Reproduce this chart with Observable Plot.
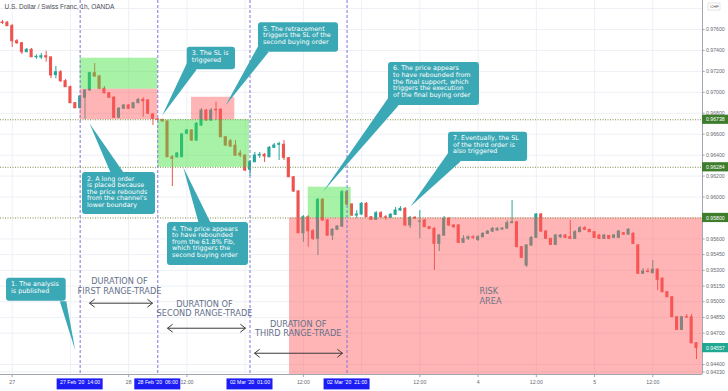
<!DOCTYPE html>
<html><head><meta charset="utf-8">
<script src="https://cdn.jsdelivr.net/npm/d3@7"></script>
<script src="https://cdn.jsdelivr.net/npm/@observablehq/plot@0.6"></script>
<style>body{margin:0;background:#fff;overflow:hidden}</style>
</head><body><div id="chart"></div>
<script>
// ---- DATA (USD/CHF, 1h, OANDA) ----
// bar index: hours since 27 Feb 00:00, weekend removed; first bar = -2
const firstBar = -2;
const opens = [
0.97667,0.97664,0.97632,0.97488,0.97469,0.97383,0.97406,0.97335,0.97333,0.97345,
0.97333,0.97165,0.97192,0.97106,0.97049,0.96896,0.96848,0.96948,0.97018,0.97183,
0.97151,0.97034,0.96992,0.96948,0.96757,0.96843,0.96874,0.96848,0.96896,0.96928,
0.96922,0.96788,0.96740,0.96737,0.96721,0.96380,0.96380,0.96380,0.96604,0.96635,
0.96540,0.96683,0.96826,0.96731,0.96833,0.96833,0.96571,0.96533,0.96490,0.96416,
0.96396,0.96260,0.96332,0.96396,0.96403,0.96380,0.96470,0.96499,0.96499,0.96371,
0.96189,0.96053,0.95654,0.95807,0.95673,0.95601,0.95973,0.95776,0.95632,0.95687,
0.95718,0.96046,0.95928,0.95823,0.95833,0.95935,0.95807,0.95782,0.95845,0.95807,
0.95801,0.95830,0.95871,0.95887,0.95728,0.95801,0.95763,0.95776,0.95712,0.95696,
0.95553,0.95632,0.95792,0.95728,0.95728,0.95563,0.95601,0.95616,0.95590,0.95616,
0.95648,0.95670,0.95680,0.95690,0.95699,0.95750,0.95759,0.95521,0.95346,0.95537,
0.95610,0.95833,0.95670,0.95601,0.95543,0.95616,0.95632,0.95616,0.95601,0.95664,
0.95702,0.95687,0.95664,0.95632,0.95601,0.95628,0.95610,0.95610,0.95654,0.95642,
0.95648,0.95537,0.95267,0.95289,0.95272,0.95305,0.95219,0.95091,0.95043,0.94852,
0.94731,0.94852,0.94852,0.94603];
const highs = [
0.97686,0.97676,0.97648,0.97504,0.97476,0.97419,0.97419,0.97358,0.97371,0.97393,
0.97340,0.97247,0.97208,0.97122,0.97060,0.96903,0.96970,0.97027,0.97192,0.97275,
0.97161,0.97056,0.96998,0.96960,0.96855,0.96884,0.96884,0.96903,0.96941,0.96948,
0.96931,0.96798,0.96750,0.96743,0.96726,0.96396,0.96425,0.96607,0.96645,0.96645,
0.96712,0.96845,0.96836,0.96845,0.96906,0.96845,0.96578,0.96549,0.96540,0.96444,
0.96400,0.96349,0.96425,0.96425,0.96416,0.96482,0.96511,0.96524,0.96540,0.96377,
0.96196,0.96062,0.95823,0.95823,0.95690,0.95986,0.95986,0.95785,0.95699,0.95728,
0.96062,0.96062,0.95938,0.95871,0.95947,0.95947,0.95814,0.95862,0.95862,0.95823,
0.95842,0.95900,0.95909,0.95900,0.95814,0.95814,0.95871,0.95785,0.95718,0.95709,
0.95642,0.95814,0.95804,0.95737,0.95737,0.95632,0.95628,0.95632,0.95632,0.95661,
0.95680,0.95709,0.95709,0.95709,0.95776,0.95967,0.95766,0.95527,0.95546,0.95623,
0.95842,0.95842,0.95680,0.95604,0.95642,0.95642,0.95642,0.95776,0.95680,0.95718,
0.95718,0.95690,0.95670,0.95642,0.95642,0.95632,0.95642,0.95680,0.95661,0.95699,
0.95661,0.95546,0.95317,0.95317,0.95394,0.95317,0.95231,0.95097,0.95050,0.94859,
0.94859,0.94878,0.94878,0.94610];
const lows = [
0.97648,0.97629,0.97428,0.97457,0.97361,0.97380,0.97333,0.97316,0.97313,0.97288,
0.97132,0.97129,0.97094,0.97046,0.96893,0.96845,0.96843,0.96740,0.97008,0.97142,
0.97027,0.96984,0.96941,0.96750,0.96747,0.96836,0.96836,0.96843,0.96893,0.96762,
0.96788,0.96683,0.96731,0.96716,0.96377,0.96100,0.96371,0.96377,0.96597,0.96530,
0.96530,0.96673,0.96721,0.96721,0.96731,0.96568,0.96482,0.96473,0.96387,0.96377,
0.96244,0.96196,0.96330,0.96368,0.96330,0.96377,0.96463,0.96349,0.96349,0.96186,
0.96043,0.95651,0.95568,0.95521,0.95585,0.95441,0.95766,0.95623,0.95585,0.95680,
0.95709,0.95919,0.95814,0.95795,0.95823,0.95804,0.95776,0.95776,0.95795,0.95776,
0.95795,0.95823,0.95862,0.95718,0.95699,0.95785,0.95601,0.95709,0.95690,0.95298,
0.95479,0.95623,0.95718,0.95699,0.95556,0.95556,0.95585,0.95594,0.95575,0.95613,
0.95642,0.95661,0.95673,0.95680,0.95690,0.95747,0.95518,0.95413,0.95327,0.95527,
0.95604,0.95661,0.95594,0.95537,0.95537,0.95604,0.95604,0.95594,0.95594,0.95661,
0.95680,0.95661,0.95604,0.95594,0.95594,0.95594,0.95604,0.95604,0.95632,0.95632,
0.95546,0.95260,0.95260,0.95279,0.95270,0.95107,0.95088,0.95040,0.94849,0.94725,
0.94725,0.94839,0.94600,0.94448];
const closes = [
0.97662,0.97632,0.97488,0.97469,0.97383,0.97406,0.97335,0.97339,0.97345,0.97333,
0.97161,0.97192,0.97106,0.97049,0.96896,0.96848,0.96960,0.97018,0.97183,0.97151,
0.97034,0.96992,0.96948,0.96757,0.96843,0.96874,0.96843,0.96896,0.96928,0.96915,
0.96795,0.96747,0.96737,0.96721,0.96380,0.96365,0.96416,0.96597,0.96635,0.96540,
0.96699,0.96826,0.96731,0.96826,0.96828,0.96571,0.96492,0.96482,0.96396,0.96396,
0.96253,0.96332,0.96396,0.96403,0.96387,0.96470,0.96492,0.96505,0.96374,0.96189,
0.96053,0.95654,0.95807,0.95673,0.95601,0.95973,0.95776,0.95632,0.95687,0.95718,
0.96046,0.95928,0.95823,0.95833,0.95935,0.95807,0.95782,0.95845,0.95807,0.95801,
0.95830,0.95871,0.95887,0.95728,0.95801,0.95795,0.95766,0.95712,0.95696,0.95553,
0.95632,0.95792,0.95728,0.95712,0.95563,0.95601,0.95616,0.95610,0.95616,0.95648,
0.95670,0.95696,0.95696,0.95699,0.95750,0.95759,0.95521,0.95419,0.95537,0.95610,
0.95833,0.95670,0.95601,0.95543,0.95632,0.95632,0.95610,0.95601,0.95664,0.95702,
0.95687,0.95664,0.95610,0.95601,0.95632,0.95601,0.95632,0.95670,0.95642,0.95687,
0.95553,0.95267,0.95289,0.95282,0.95305,0.95209,0.95091,0.95043,0.94852,0.94731,
0.94852,0.94849,0.94603,0.94557];

const gridPrices = [0.978,0.976,0.974,0.972,0.970,0.968,0.966,0.964,0.962,0.960,0.956,0.9545,0.953,0.9515,0.950,0.9485,0.947,0.944,0.9433];
const priceTicks = [0.976,0.974,0.972,0.970,0.968,0.966,0.964,0.962,0.960,0.956,0.9545,0.953,0.9515,0.950,0.9485,0.947,0.944,0.9433];
const levels = [0.96738, 0.96284, 0.95800];
const lastPrice = 0.94557;
const gridHours = [0,12,24,36,48,60,72,84,96,108,120,132];
const hourTicks = [0,24,36,60,84,96,108,120,132];
const hourLabels = ["27","28","12:00","12:00","12:00","4","12:00","5","12:00"];
const eventHours = [14,30,49,69];
const eventLabels = ["27 Feb '20  14:00","28 Feb '20  06:00","02 Mar '20  01:00","02 Mar '20  21:00"];
const title = "U.S. Dollar / Swiss Franc, 1h, OANDA";

// ---- CHART ----
const candles = opens.map((o, i) => ({t: i + firstBar, o, h: highs[i], l: lows[i], c: closes[i]}));
const xMin = -2.411, xMax = 142.24, yMin = 0.94305, yMax = 0.97877;
const UP = "#26a69a", DN = "#ef5350";
const col = d => d.c >= d.o ? UP : DN;
const fmt = d3.format(".5f");

const zones = [
  {x1: 14, x2: 30, y1: 0.97030, y2: 0.97326, fill: "#3de23d"},
  {x1: 14, x2: 30, y1: 0.96738, y2: 0.97030, fill: "#ff5c5c"},
  {x1: 30, x2: 48.9, y1: 0.96284, y2: 0.96738, fill: "#3de23d"},
  {x1: 36.95, x2: 45.87, y1: 0.96738, y2: 0.96953, fill: "#ff5c5c"},
  {x1: 61, x2: 69.85, y1: 0.95800, y2: 0.96094, fill: "#3de23d"},
  {x1: 57.14, x2: xMax, y1: yMin, y2: 0.95800, fill: "#ff5c5c"}
];
const callouts = [
  {text: "1. The analysis\nis published", x1: -1.17, x2: 11.13, y1: 0.95005, y2: 0.95224,
   ptr: [[9.81,0.95005],[13.0,0.94534],[11.13,0.95005]]},
  {text: "2. A long order\nis placed because\nthe price rebounds\nfrom the channel's\nlower boundary", x1: 14.49, x2: 29.53, y1: 0.95833, y2: 0.96234,
   ptr: [[20.26,0.96234],[15.93,0.96702],[22.94,0.96234]]},
  {text: "3. The SL is\ntriggered", x1: 36.06, x2: 46.01, y1: 0.97215, y2: 0.97431,
   ptr: [[36.06,0.97285],[30.91,0.96779],[37.98,0.97215]]},
  {text: "4. The price appears\nto have rebounded\nfrom the 61.8% Fib,\nwhich triggers the\nsecond buying order", x1: 32.0, x2: 48.69, y1: 0.95346, y2: 0.95756,
   ptr: [[38.39,0.95756],[35.24,0.96285],[40.86,0.95756]]},
  {text: "5. The retracement\ntriggers the SL of the\nsecond buying order", x1: 50.75, x2: 67.24, y1: 0.97383, y2: 0.97664,
   ptr: [[50.75,0.97447],[43.95,0.96874],[52.81,0.97383]]},
  {text: "6. The price appears\nto have rebounded from\nthe final support, which\ntriggers the execution\nof the final buying order", x1: 77.54, x2: 96.29, y1: 0.96874, y2: 0.97285,
   ptr: [[77.54,0.96951],[64.08,0.96053],[79.6,0.96874]]},
  {text: "7. Eventually, the SL\nof the third order is\nalso triggered", x1: 89.9, x2: 106.2, y1: 0.96339, y2: 0.96619,
   ptr: [[89.9,0.96425],[82.07,0.95909],[92.38,0.96339]]}
];
const pointers = callouts.flatMap((c, i) => c.ptr.map(([x, y]) => ({id: i, x, y})));
const durations = [
  {x: 22.11, y: 0.95151, text: "DURATION OF\nFIRST RANGE-TRADE"},
  {x: 39.62, y: 0.94935, text: "DURATION OF\nSECOND RANGE-TRADE"},
  {x: 58.93, y: 0.94744, text: "DURATION OF\nTHIRD RANGE-TRADE"}
];
const arrows = [
  {x1: 15.93, x2: 28.91, y: 0.94986},
  {x1: 32.0, x2: 48.07, y: 0.94747},
  {x1: 49.93, x2: 68.06, y: 0.94508}
];
// open chevron heads at both ends of each double arrow
const headW = 1.0, headH = 0.00036;
const heads = arrows.flatMap((a, i) => [
  {id: i * 2, x: a.x1 + headW, y: a.y + headH}, {id: i * 2, x: a.x1, y: a.y}, {id: i * 2, x: a.x1 + headW, y: a.y - headH},
  {id: i * 2 + 1, x: a.x2 - headW, y: a.y + headH}, {id: i * 2 + 1, x: a.x2, y: a.y}, {id: i * 2 + 1, x: a.x2 - headW, y: a.y - headH}
]);
const sideLabels = [
  ...levels.map(v => ({v, fill: "#3e7d2c"})),
  {v: lastPrice, fill: "#22a892"}
];
const events = eventHours.map((t, i) => ({t, label: eventLabels[i]}));
const hourTickData = hourTicks.map((t, i) => ({t, label: hourLabels[i]}));

const chart = Plot.plot({
  width: 728, height: 391,
  marginTop: 0, marginLeft: 0, marginRight: 26, marginBottom: 17,
  x: {domain: [xMin, xMax], axis: null},
  y: {domain: [yMin, yMax], axis: null},
  color: {type: "identity"},
  style: {fontFamily: "DejaVu Sans", background: "#fff"},
  marks: [
    Plot.ruleX(gridHours, {stroke: "#edf0f5"}),
    Plot.ruleY(gridPrices, {stroke: "#edf0f5"}),
    Plot.ruleX(candles, {x: "t", y1: "l", y2: "h", stroke: col}),
    Plot.rect(candles, {x1: d => d.t - 0.32, x2: d => d.t + 0.32, y1: "o", y2: "c", fill: col, insetTop: -0.5, insetBottom: -0.5}),
    Plot.rect(zones, {x1: "x1", x2: "x2", y1: "y1", y2: "y2", fill: "fill", fillOpacity: 0.45}),
    Plot.ruleX(eventHours, {stroke: "#8073dd", strokeDasharray: "3,2"}),
    Plot.ruleY(levels, {stroke: "#7d8f4a", strokeDasharray: "1,1.5"}),
    Plot.ruleY([yMin], {stroke: "#a3a6af"}),
    Plot.ruleX([xMax], {stroke: "#a3a6af"}),
    // callouts
    Plot.line(pointers, {x: "x", y: "y", z: "id", fill: "#3ba8b5", stroke: "none"}),
    Plot.rect(callouts, {x1: "x1", x2: "x2", y1: "y1", y2: "y2", fill: "#3ba8b5", rx: 3}),
    Plot.text(callouts, {x: "x1", y: "y2", text: "text", textAnchor: "start", lineAnchor: "top", dx: 4.5, dy: 3.3, fontSize: 6.4, lineHeight: 1.03, fill: "white"}),
    // range-trade annotations
    Plot.text(durations, {x: "x", y: "y", text: "text", fontSize: 8.2, lineHeight: 1.14, fill: "#65708a"}),
    Plot.link(arrows, {x1: "x1", x2: "x2", y1: "y", y2: "y", stroke: "#3a3a3a", strokeWidth: 1}),
    Plot.line(heads, {x: "x", y: "y", z: "id", stroke: "#3a3a3a", strokeWidth: 1}),
    Plot.text(["RISK\nAREA"], {x: 96.29, y: 0.95056, text: d => d, textAnchor: "start", fontSize: 8.2, lineHeight: 1.14, fill: "#6d7384"}),
    // right price axis
    Plot.link(priceTicks, {x1: xMax, x2: xMax + 0.45, y1: d => d, y2: d => d, stroke: "#a3a6af"}),
    Plot.text(priceTicks, {x: xMax, y: d => d, text: d => fmt(d), textAnchor: "start", dx: 3.5, fontSize: 5.2, fill: "#666a73", fontFamily: "Liberation Sans"}),
    Plot.rect(sideLabels, {x1: xMax, x2: xMax + 5.45, y1: d => d.v - 0.00044, y2: d => d.v + 0.00044, fill: "fill"}),
    Plot.text(sideLabels, {x: xMax, y: "v", text: d => fmt(d.v), textAnchor: "start", dx: 3.5, fontSize: 5.2, fill: "white", fontFamily: "Liberation Sans"}),
    Plot.rect([0], {x1: 143.48, x2: 145.95, y1: 0.97781, y2: 0.97848, fill: "white", stroke: "#d0d3da", strokeWidth: 0.6}),
    Plot.text(["CHF"], {x: 144.71, y: 0.97815, text: d => d, fontSize: 4.3, fill: "#555", fontFamily: "Liberation Sans"}),
    // bottom time axis
    Plot.link(hourTickData, {x1: "t", x2: "t", y1: yMin, y2: yMin - 0.00025, stroke: "#a3a6af"}),
    Plot.text(hourTickData, {x: "t", text: "label", frameAnchor: "bottom", dy: 9.5, fontSize: 5.2, fill: "#666a73", fontFamily: "Liberation Sans"}),
    Plot.rect(events, {x1: d => d.t - 4.74, x2: d => d.t + 4.74, y1: 0.94158, y2: 0.94263, fill: "#1c1cf7"}),
    Plot.text(events, {x: "t", text: "label", frameAnchor: "bottom", dy: 9.8, fontSize: 5.2, fill: "white", fontFamily: "Liberation Sans"}),
    // title
    Plot.text([title], {frameAnchor: "top-left", text: d => d, textAnchor: "start", lineAnchor: "top", dx: 4, dy: 3.5, fontSize: 6.5, fill: "#4a4d55", fontFamily: "Liberation Sans"})
  ]
});
document.getElementById("chart").appendChild(chart);
</script>
</body></html>
